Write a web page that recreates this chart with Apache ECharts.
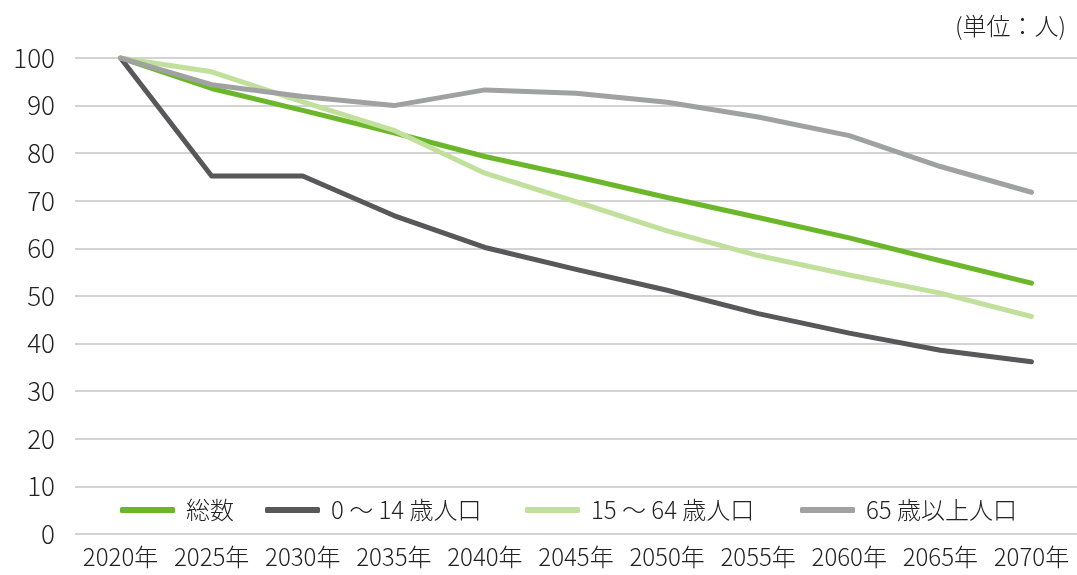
<!DOCTYPE html>
<html><head><meta charset="utf-8">
<script src="https://cdn.jsdelivr.net/npm/echarts@6/dist/echarts.min.js"></script>
<style>html,body{margin:0;padding:0;background:#fff}#c{width:1077px;height:575px}</style>
</head><body><div id="c"></div>
<script>
const categories = ['2020年','2025年','2030年','2035年','2040年','2045年','2050年','2055年','2060年','2065年','2070年'];
const seriesNames = ['総数','0 ～ 14 歳人口','15 ～ 64 歳人口','65 歳以上人口'];
const total   = [100, 93.6, 89.0, 84.3, 79.3, 75.1, 70.7, 66.5, 62.2, 57.4, 52.7];
const age0_14 = [100, 75.2, 75.2, 66.9, 60.2, 55.6, 51.2, 46.3, 42.2, 38.6, 36.2];
const age15_64= [100, 97.1, 90.8, 84.8, 75.8, 69.8, 63.7, 58.5, 54.4, 50.6, 45.7];
const age65   = [100, 94.4, 91.9, 90.0, 93.3, 92.6, 90.7, 87.6, 83.7, 77.2, 71.8];
const yTicks  = {min: 0, max: 100, interval: 10};
const unitLabel = '(単位：人)';

const colors = ['#6BB72A', '#58585A', '#C1E09B', '#A0A2A1'];
const font = '"Noto Sans CJK JP", "Noto Sans", sans-serif';
const legendLeft = [120, 265, 525, 800];
const chart = echarts.init(document.getElementById('c'));
const mk = (name, data, c) => ({
  name, type: 'line', data, symbol: 'none', smooth: false,
  lineStyle: {width: 5, color: c, cap: 'round', join: 'round'},
  itemStyle: {color: c}
});
chart.setOption({
  animation: false,
  textStyle: {fontFamily: font},
  title: {text: unitLabel, right: 6, top: 9, textStyle: {fontSize: 24, fontWeight: 300, color: '#222', fontFamily: font}},
  grid: {left: 75, right: 0, top: 58, bottom: 41, containLabel: false},
  legend: seriesNames.map((n, i) => ({
    left: legendLeft[i], top: 498, padding: 0, itemWidth: 55, itemHeight: 6, icon: 'roundRect',
    textStyle: {fontSize: 24, fontWeight: 300, color: '#222', fontFamily: font, padding: [0, 0, 0, 6]},
    data: [n]
  })),
  xAxis: {
    type: 'category', data: categories, boundaryGap: true,
    axisLine: {show: false}, axisTick: {show: false},
    axisLabel: {interval: 0, hideOverlap: false, fontSize: 24, fontWeight: 300, color: '#222', margin: 11, fontFamily: font}
  },
  yAxis: {
    type: 'value', min: yTicks.min, max: yTicks.max, interval: yTicks.interval,
    axisLine: {show: false}, axisTick: {show: false},
    axisLabel: {fontSize: 26, fontWeight: 300, color: '#222', margin: 20, fontFamily: font},
    splitLine: {lineStyle: {color: '#d3d3d3', width: 2}}
  },
  series: [
    mk(seriesNames[0], total, colors[0]),
    mk(seriesNames[1], age0_14, colors[1]),
    mk(seriesNames[2], age15_64, colors[2]),
    mk(seriesNames[3], age65, colors[3])
  ]
});
</script></body></html>
